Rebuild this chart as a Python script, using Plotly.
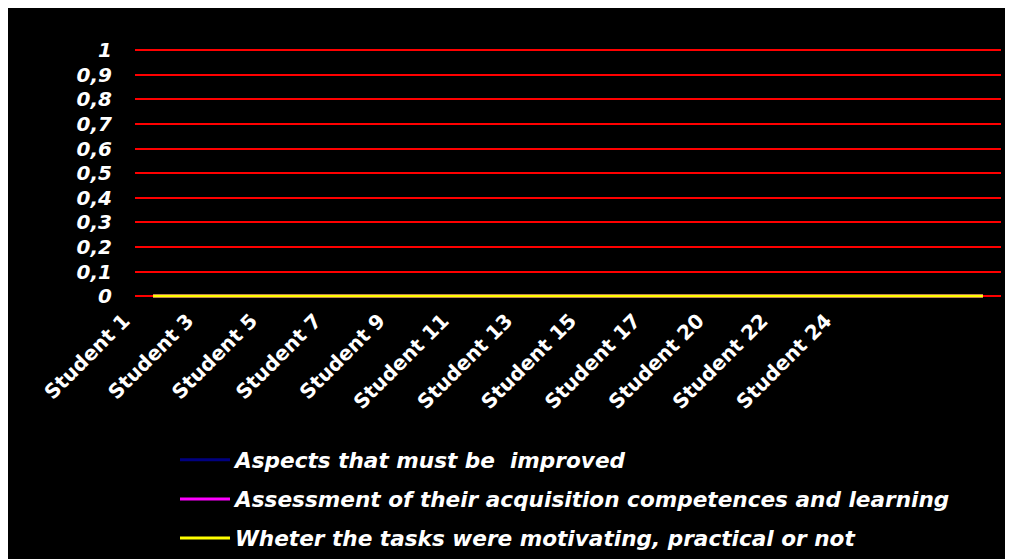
import plotly.graph_objects as go

# ---- data ----
students = ["Student 1", "Student 2", "Student 3", "Student 4", "Student 5", "Student 6",
            "Student 7", "Student 8", "Student 9", "Student 10", "Student 11", "Student 12",
            "Student 13", "Student 14", "Student 15", "Student 16", "Student 17", "Student 19",
            "Student 20", "Student 21", "Student 22", "Student 23", "Student 24", "Student 25"]
aspects_improved = [0] * 24
assessment_competences = [0] * 24
tasks_motivating = [0] * 24

series_names = ["Aspects that must be  improved",
                "Assessment of their acquisition competences and learning",
                "Wheter the tasks were motivating, practical or not"]
series_colors = ["#000080", "#FF00FF", "#FFFF00"]

x_tick_labels = ["Student 1", "Student 3", "Student 5", "Student 7", "Student 9", "Student 11",
                 "Student 13", "Student 15", "Student 17", "Student 20", "Student 22", "Student 24"]
y_tick_values = [0, 0.1, 0.2, 0.3, 0.4, 0.5, 0.6, 0.7, 0.8, 0.9, 1]
y_tick_labels = ["0", "0,1", "0,2", "0,3", "0,4", "0,5", "0,6", "0,7", "0,8", "0,9", "1"]

W, H = 1013, 559
L, R, T, B = 127, 20, 40.8, 265.6
pw, ph = W - L - R, H - T - B

def px2paper_x(px):
    return (px - L) / pw

def px2paper_y(py):
    return (H - B - py) / ph

fig = go.Figure()
for vals, name, col in zip([aspects_improved, assessment_competences, tasks_motivating],
                           series_names, series_colors):
    fig.add_trace(go.Scatter(x=students, y=vals, mode="lines", name=name,
                             legendgroup=name,
                             line=dict(color=col, width=3), hoverinfo="skip"))

# helper trace for the label axis (invisible)
label_idx = [students.index(s) for s in x_tick_labels]
fig.add_trace(go.Scatter(x=label_idx, y=[tasks_motivating[i] for i in label_idx],
                         xaxis="x2", yaxis="y", mode="markers",
                         marker=dict(opacity=0, size=1), showlegend=False, hoverinfo="skip"))

lab_font = dict(family="DejaVu Sans", size=20, color="white", weight="bold")
it_font = dict(family="DejaVu Sans", size=20, color="white", weight="bold", style="italic")

fig.update_layout(
    width=W, height=H,
    margin=dict(l=L, r=R, t=T, b=B, autoexpand=False),
    paper_bgcolor="black",
    plot_bgcolor="black",
    showlegend=True,
    xaxis=dict(type="category", categoryorder="array", categoryarray=students,
               range=[-0.5, len(students) - 0.5], showticklabels=False, showgrid=False,
               zeroline=False, showline=False, ticks="", automargin=False),
    xaxis2=dict(overlaying="x", anchor="y", side="bottom", type="linear",
                range=[-0.157, 26.99], tickmode="array", tickvals=label_idx,
                ticktext=x_tick_labels, tickangle=-45, tickfont=lab_font,
                showgrid=False, zeroline=False, showline=False, ticks="",
                ticklabelstandoff=3, ticklabelshift=-16, automargin=False),
    yaxis=dict(range=[-0.02, 1.005], tickmode="array", tickvals=y_tick_values,
               ticktext=y_tick_labels, tickfont=it_font, showgrid=True,
               gridcolor="#FF0000", gridwidth=2, zeroline=False, showline=False,
               ticks="", ticklabelstandoff=22, automargin=False),
    legend=dict(x=px2paper_x(167), y=px2paper_y(432),
                xanchor="left", yanchor="top", bgcolor="rgba(0,0,0,0)",
                font=dict(family="DejaVu Sans", size=21.6, color="white", weight="bold",
                          style="italic"),
                tracegroupgap=8, itemwidth=50, traceorder="grouped"),
)

fig.write_html("out.html")
